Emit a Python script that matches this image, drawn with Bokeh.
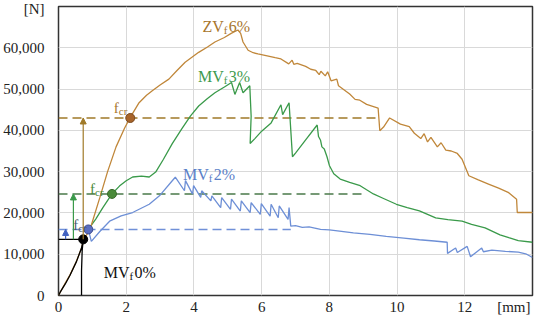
from bokeh.plotting import figure
from bokeh.models import FixedTicker, Arrow, NormalHead, NumeralTickFormatter
from bokeh.core.properties import value
from bokeh.embed import file_html
from bokeh.resources import INLINE

# ---------------- data ----------------
zv_x = [0, 0.05, 0.2, 0.34, 0.53, 0.68, 0.75, 0.93, 1.22, 1.45, 1.70, 1.95, 2.12, 2.38, 2.6, 2.77,
        3.0, 3.26, 3.5, 3.74, 4.14, 4.4, 4.62, 4.9, 5.1, 5.30, 5.38, 5.45, 5.60, 5.75, 5.89, 6.13,
        6.4, 6.57, 6.8, 6.9, 6.95, 7.05, 7.3, 7.45, 7.6, 7.7, 7.75, 7.88, 7.95, 8.05, 8.22, 8.27,
        8.42, 8.6, 8.76, 8.9, 9.1, 9.44, 9.49, 9.6, 9.78, 10.1, 10.36, 10.51, 10.7, 10.8, 10.9,
        11.0, 11.19, 11.3, 11.44, 11.6, 11.78, 11.92, 12.12, 12.4, 12.7, 13.0, 13.28, 13.53,
        13.55, 14.0]
zv_y = [0, 800, 3000, 5000, 8300, 11500, 13600, 16000, 23700, 30000, 36000, 40500, 43150, 46700,
        48500, 49600, 51000, 52400, 54500, 56500, 58900, 60200, 61400, 62500, 63500, 64300, 63500,
        61400, 59400, 58800, 58500, 58100, 57600, 57300, 56100, 57000, 56000, 56200, 55500, 54800,
        54500, 53500, 54300, 53200, 54200, 52000, 52400, 50800, 49900, 48800, 47500, 47300, 46300,
        45400, 39900, 40800, 43000, 41500, 40900, 39300, 38000, 39200, 37200, 38300, 36000, 37000,
        35200, 35000, 34400, 33000, 29000, 28000, 27000, 26000, 25000, 23300, 20100, 20100]

mv3_x = [0.88, 1.1, 1.31, 1.58, 1.8, 2.0, 2.19, 2.45, 2.68, 2.87, 3.1, 3.36, 3.65, 3.9, 4.14, 4.4,
         4.62, 4.9, 5.11, 5.21, 5.35, 5.45, 5.65, 5.69, 5.66, 5.8, 6.0, 6.28, 6.57, 6.62, 6.81,
         6.91, 7.0, 7.3, 7.64, 7.68, 7.74, 7.78, 7.85, 7.93, 8.0, 8.13, 8.32, 8.6, 8.91, 9.1, 9.3,
         9.6, 9.98, 10.3, 10.66, 11.14, 11.5, 11.92, 12.2, 12.6, 13.04, 13.3, 13.58, 14.0]
mv3_y = [16000, 18500, 21300, 24600, 26500, 27800, 28700, 28900, 28700, 29900, 33000, 36800, 40500,
         43500, 45900, 47700, 49100, 50500, 51600, 48700, 51600, 49100, 50800, 43400, 36800, 38000,
         39800, 41800, 46200, 43800, 46700, 33600, 34500, 37700, 41300, 38500, 37600, 36000, 35500,
         33600, 31500, 29500, 28200, 27400, 26600, 25600, 24600, 23500, 22100, 21300, 20500, 18800,
         18400, 18000, 17200, 16400, 14700, 14000, 13300, 12900]

mv2_x = [0.88, 0.97, 1.22, 1.51, 1.85, 2.19, 2.68, 3.0, 3.36, 3.45, 3.72, 3.75, 3.96, 3.99, 4.20,
         4.23, 4.50, 4.53, 4.79, 4.82, 5.08, 5.11, 5.37, 5.40, 5.66, 5.69, 5.96, 5.99, 6.25, 6.28,
         6.49, 6.52, 6.78, 6.81, 6.86, 7.0, 7.2, 7.4, 7.74, 8.0, 8.3, 8.71, 9.2, 9.68, 10.2, 10.66,
         11.1, 11.48, 11.49, 11.73, 11.78, 12.07, 12.17, 12.5, 12.55, 12.8, 13.2, 13.58, 13.8, 14.0]
mv2_y = [16000, 13100, 15500, 18000, 19300, 20100, 22100, 24300, 27800, 28650, 25370, 27830, 24560,
         26600, 23750, 25370, 22910, 24140, 21290, 23730, 20880, 23330, 20460, 22920, 20060, 22510,
         19650, 22270, 19230, 22100, 18840, 21690, 18420, 21280, 16800, 16900, 16500, 16600, 16000,
         15900, 15600, 15150, 14800, 14300, 13900, 13500, 13200, 12900, 10200, 11500, 10400, 11900,
         9400, 11500, 10600, 11000, 10700, 10500, 10100, 9200]

mv0_x = [0, 0.05, 0.2, 0.34, 0.53, 0.68, 0.73, 0.70, 0.68, 0.68]
mv0_y = [0, 800, 2800, 4900, 8200, 11500, 13500, 11000, 6000, 0]

# cracking points (x, y) and levels
fcr_x = [0.73, 0.88, 1.58, 2.12]
fcr_y = [13600, 16000, 24600, 43000]

x_ticks = [0, 2, 4, 6, 8, 10, 12]
y_ticks = [0, 10000, 20000, 30000, 40000, 50000, 60000]

# ---------------- styles ----------------
FONT = "serif"
C_ORANGE = "#c0873a"
C_ORANGE_T = "#a8762e"
C_ORANGE_D = "#a07a28"
C_GREEN = "#3a9a4a"
C_GREEN_T = "#3f9a4f"
C_GREEN_D = "#4a7a4a"
C_BLUE = "#6d8fd6"
C_BLUE_T = "#5b7fc8"
C_BLUE_D = "#7090d8"

p = figure(width=534, height=317, x_range=(0, 14), y_range=(0, 70000),
           output_backend="svg", toolbar_location=None,
           min_border_left=57, min_border_right=2, min_border_top=6, min_border_bottom=22)
p.background_fill_color = "white"
p.border_fill_color = "white"
p.outline_line_color = "#333333"
p.outline_line_width = 1.5

p.xaxis.ticker = FixedTicker(ticks=x_ticks + [13.45])
p.xaxis.major_label_overrides = {13.45: "[mm]"}
p.yaxis.ticker = FixedTicker(ticks=y_ticks + [70000])
p.yaxis.formatter = NumeralTickFormatter(format="0,0")
p.yaxis.major_label_overrides = {70000: "[N]"}
for ax in (p.xaxis[0], p.yaxis[0]):
    ax.axis_line_color = None
    ax.major_tick_line_color = None
    ax.minor_tick_line_color = None
    ax.major_tick_out = 0
    ax.major_tick_in = 0
    ax.minor_tick_out = 0
    ax.minor_tick_in = 0
    ax.major_label_text_font = FONT
    ax.major_label_text_font_size = "15px"
    ax.major_label_text_color = "#222222"
p.xaxis.major_label_standoff = 3
p.yaxis.major_label_standoff = 14

p.xgrid.ticker = FixedTicker(ticks=x_ticks[1:])
p.ygrid.ticker = FixedTicker(ticks=y_ticks[1:])
p.xgrid.grid_line_color = "#d9d9d9"
p.ygrid.grid_line_color = "#d9d9d9"

# dashed levels
p.line([0, 9.47], [fcr_y[3], fcr_y[3]], line_color=C_ORANGE_D, line_width=1.4, line_dash="9 5")
p.line([0, 8.95], [fcr_y[2], fcr_y[2]], line_color=C_GREEN_D, line_width=1.4, line_dash="9 5")
p.line([0, 6.86], [fcr_y[1], fcr_y[1]], line_color=C_BLUE_D, line_width=1.4, line_dash="9 5")
p.line([0, fcr_x[0]], [fcr_y[0], fcr_y[0]], line_color="black", line_width=1.2)

# curves
p.line(mv2_x, mv2_y, line_color=C_BLUE, line_width=1.3)
p.line(mv3_x, mv3_y, line_color=C_GREEN, line_width=1.3)
p.line(zv_x, zv_y, line_color=C_ORANGE, line_width=1.3)
p.line(mv0_x, mv0_y, line_color="black", line_width=1.3)

# arrows
for xa, ya, c in [(0.73, fcr_y[3], C_ORANGE_D), (0.44, fcr_y[2], C_GREEN), (0.21, fcr_y[1], "#4060c0")]:
    p.add_layout(Arrow(end=NormalHead(size=6, fill_color=c, line_color=c),
                       x_start=xa, y_start=fcr_y[0], x_end=xa, y_end=ya,
                       line_color=c, line_width=1.2))

# dots
p.scatter([fcr_x[0]], [fcr_y[0]], size=9, fill_color="black", line_color="black")
p.scatter([fcr_x[1]], [fcr_y[1]], size=9, fill_color="#5a6ec0", line_color="#3a4a90")
p.scatter([fcr_x[2]], [fcr_y[2]], size=9, fill_color="#4a8a3a", line_color="#3a6a2a")
p.scatter([fcr_x[3]], [fcr_y[3]], size=9, fill_color="#a8642a", line_color="#7a4a20")


def sublabel(x, y, main, sub, tail, color, size=16, subsize=11, sub_dx=5):
    p.text([x], [y], [main], text_align="right", text_baseline="alphabetic",
           text_font=value(FONT), text_font_size=f"{size}px", text_color=color)
    p.text([x], [y], [sub], text_align="left", text_baseline="alphabetic", y_offset=3,
           text_font=value(FONT), text_font_size=f"{subsize}px", text_color=color)
    if tail:
        p.text([x], [y], [tail], text_align="left", text_baseline="alphabetic", x_offset=sub_dx,
               text_font=value(FONT), text_font_size=f"{size}px", text_color=color)


sublabel(4.88, 65080, "ZV", "f", "6%", C_ORANGE_T)
sublabel(4.88, 52970, "MV", "f", "3%", C_GREEN_T)
sublabel(4.44, 29300, "MV", "f", "2%", C_BLUE_T)
sublabel(2.10, 5570, "MV", "f", "0%", "#111111")
sublabel(1.78, 45400, "f", "cr", None, C_ORANGE_T, size=15, subsize=11)
sublabel(1.08, 25800, "f", "cr", None, "#4a8a3a", size=15, subsize=11)
sublabel(0.58, 17000, "f", "cr", None, "#4a5a6a", size=15, subsize=11)

open("out.html", "w").write(file_html(p, INLINE))
